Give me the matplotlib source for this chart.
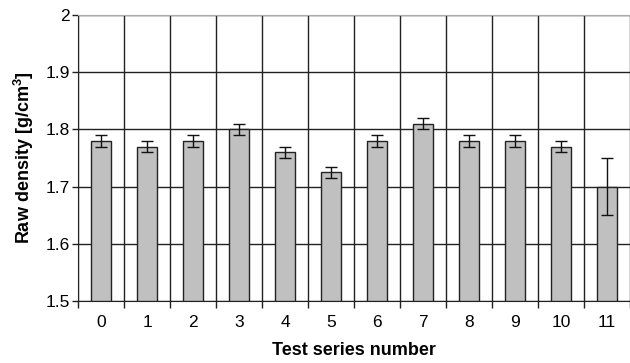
import matplotlib
matplotlib.use("Agg")
import matplotlib.pyplot as plt
import numpy as np

plt.rcParams["font.family"] = ["Liberation Sans", "DejaVu Sans"]
plt.rcParams["mathtext.fontset"] = "custom"
plt.rcParams["mathtext.rm"] = "Liberation Sans:bold"
plt.rcParams["mathtext.bf"] = "Liberation Sans:bold"

series = [str(i) for i in range(12)]
density = [1.78, 1.77, 1.78, 1.80, 1.76, 1.725, 1.78, 1.81, 1.78, 1.78, 1.77, 1.70]
err = [0.01, 0.01, 0.01, 0.01, 0.01, 0.01, 0.01, 0.01, 0.01, 0.01, 0.01, 0.05]

fig = plt.figure(figsize=(6.3, 3.63), dpi=100)
ax = fig.add_axes([78 / 630, 62 / 363, 552 / 630, 286 / 363])

x = np.arange(len(series))
ax.bar(x, np.array(density) - 1.5, bottom=1.5, width=0.42, color="#c0c0c0",
       edgecolor="#222222", linewidth=1.0, zorder=3)
ax.errorbar(x, density, yerr=err, fmt="none", ecolor="#111111",
            elinewidth=1.0, capsize=4, capthick=1.0, zorder=4)

ax.set_xlim(-0.5, len(series) - 0.5)
ax.set_ylim(1.5, 2.0)
ax.set_yticks([1.5, 1.6, 1.7, 1.8, 1.9, 2.0])
ax.set_yticklabels(["1.5", "1.6", "1.7", "1.8", "1.9", "2"])
ax.set_xticks(x)
ax.set_xticklabels(series)
ax.set_xticks(np.arange(-0.5, len(series), 1.0), minor=True)

ax.tick_params(axis="x", which="major", length=0, pad=10, labelsize=12.5)
ax.tick_params(axis="x", which="minor", length=5, width=1, color="#222222")
ax.tick_params(axis="y", length=4, width=1, color="#222222", labelsize=12.5, pad=2)

ax.grid(axis="y", which="major", color="#222222", linewidth=1.0, zorder=0)
ax.grid(axis="x", which="minor", color="#222222", linewidth=1.0, zorder=0)
ax.set_axisbelow(True)

ax.spines["top"].set_color("#aaaaaa")
ax.spines["right"].set_visible(False)
ax.spines["left"].set_color("#222222")
ax.spines["bottom"].set_color("#222222")

ax.set_xlabel("Test series number", fontsize=13, fontweight="bold", labelpad=9)
ax.set_ylabel("Raw density [g/cm$^3$]", fontsize=13, fontweight="bold", labelpad=7)

fig.savefig("out.png", dpi=100)
